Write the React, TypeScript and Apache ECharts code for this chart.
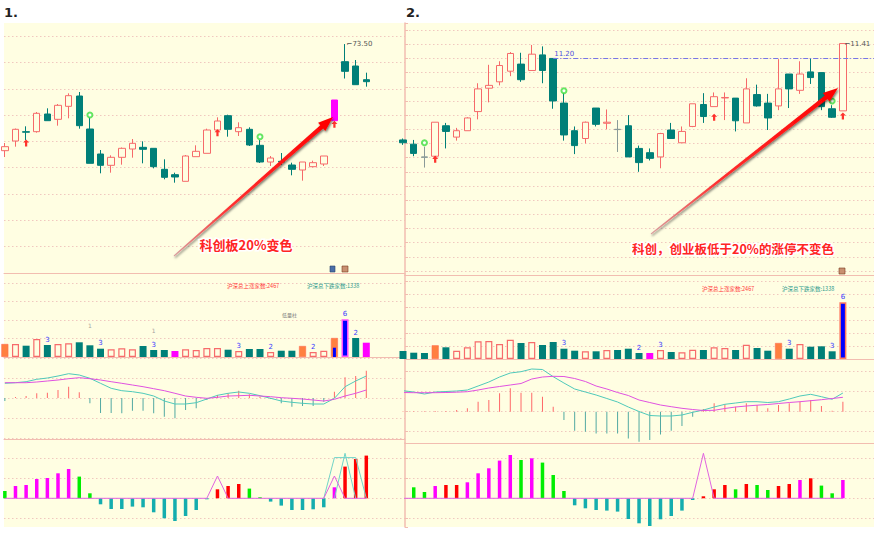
import React, { useEffect, useRef } from 'react';
import * as echarts from 'echarts';

// ================= Panel 1 (left) =================
// [open, close, low, high]
const leftCandles = [
  [53.24, 54.0, 52.04, 54.7], [55.08, 57.3, 54.0, 57.45], [56.85, 56.75, 55.27, 57.87], [56.85, 60.34, 56.66, 60.59],
  [60.21, 58.94, 58.94, 61.29], [59.2, 61.86, 57.99, 62.11], [61.67, 63.69, 59.39, 64.14], [63.63, 57.99, 57.42, 64.39],
  [57.36, 50.84, 50.84, 59.58], [52.61, 50.46, 48.94, 53.37], [50.46, 51.98, 49.06, 52.36], [51.98, 53.69, 50.58, 53.85],
  [53.56, 54.64, 51.91, 55.46], [53.88, 53.5, 50.84, 55.02], [53.69, 50.2, 49.89, 53.69], [49.7, 48.18, 47.8, 51.6],
  [48.68, 48.24, 47.16, 49.06], [47.42, 52.23, 47.42, 52.42], [52.1, 53.12, 52.1, 54.26], [52.74, 57.17, 52.74, 57.42],
  [57.17, 58.88, 57.17, 59.58], [59.89, 57.3, 55.9, 60.08], [56.85, 57.61, 56.03, 58.63], [57.3, 54.32, 54.13, 57.68],
  [54.26, 51.09, 50.9, 55.27], [51.09, 51.85, 50.33, 52.23], [51.22, 51.09, 50.52, 52.8], [50.52, 49.7, 48.56, 50.96],
  [49.57, 51.09, 47.54, 51.09], [50.2, 50.96, 50.08, 51.34], [50.71, 52.23, 50.33, 52.23], [58.94, 62.87, 58.94, 62.87],
  [70.15, 68.32, 66.95, 73.5], [69.33, 65.78, 65.78, 70.47], [66.73, 66.35, 65.4, 68.06],
];
const leftLimitUp = [31];
const leftArrowX = [2, 20, 31];
const leftArrowY = [54.7, 56.66, 58.25];
const leftClubX = [8, 24];
const leftClubY = [60.02, 55.9];

const leftVol = [13, 13, 11.3, 18, 12, 13, 13.7, 14.7, 11.7, 8.3, 7.7, 8.7, 7.7, 11, 7, 7, 6, 7.7, 7, 9, 9, 7.3, 6, 8, 8, 5, 6.3, 6.3, 11, 5, 6.3, 19, 37.7, 19, 14.3];
const leftVolType = ['o', 'u', 'd', 'u', 'd', 'u', 'u', 'd', 'd', 'd', 'u', 'u', 'u', 'd', 'd', 'd', 'm', 'u', 'u', 'u', 'u', 'd', 'u', 'd', 'd', 'u', 'd', 'd', 'o', 'u', 'u', 'o', 'b', 'd', 'm'];
const leftVolMark = ['', '', '', '', '3', '', '', '', '', '3', '', '', '', '', '3', '', '', '', '', '', '', '', '3', '', '', '2', '', '', '', '2', '', '', '6', '2', ''];
const leftVolInnerX = [31];
const leftVolInner = [9.3];
const leftGrayMarkX = [8, 14];
const leftGrayMarkY = [31.3, 27];

const leftDif = [1.47, 1.53, 1.63, 1.87, 2.0, 2.2, 2.43, 2.3, 1.97, 1.47, 0.97, 0.73, 0.63, 0.47, 0.2, -0.3, -0.6, -0.6, -0.47, -0.1, 0.27, 0.47, 0.6, 0.47, 0.23, -0.03, -0.3, -0.43, -0.53, -0.6, -0.6, -0.03, 1.13, 1.7, 2.2];
const leftDea = [1.53, 1.53, 1.53, 1.6, 1.7, 1.8, 1.93, 2.03, 1.93, 1.8, 1.63, 1.47, 1.3, 1.13, 0.93, 0.73, 0.47, 0.2, 0.07, -0.03, 0.07, 0.2, 0.23, 0.27, 0.2, 0.13, 0.03, -0.03, -0.1, -0.2, -0.3, -0.13, 0.2, 0.47, 0.8];
const leftStick = [-0.3, 0.1, 0.2, 0.47, 0.53, 0.8, 1.13, 0.57, -0.53, -1.5, -1.5, -1.53, -1.27, -1.27, -1.53, -1.87, -2.03, -1.2, -1.03, -0.2, 0.3, 0.47, 0.73, 0.37, 0.13, -0.1, -0.53, -0.87, -0.8, -0.8, -0.37, 0.63, 2.07, 2.2, 2.73];

const leftHist = [0.73, 1.23, 1.33, 1.93, 2.03, 2.5, 2.93, 2.17, 0.5, -0.6, -1.07, -1.07, -0.83, -0.9, -1.4, -2.0, -2.27, -1.77, -1.17, -0.1, 0.9, 1.23, 1.43, 0.97, 0.1, -0.33, -0.73, -1.17, -1.17, -1.1, -0.9, 1.1, 3.17, 3.93, 4.27];
const leftHistType = ['g', 'm', 'm', 'm', 'm', 'm', 'm', 'g', 'g', 't', 't', 't', 't', 't', 't', 't', 't', 't', 't', 't', 'r', 'r', 'r', 'g', 'g', 't', 't', 't', 't', 't', 't', 'm', 'r', 'r', 'r'];
const leftSigM = [0, 0, 0, 0, 0, 0, 0, 0, 0, 0, 0, 0, 0, 0, 0, 0, 0, 0, 0, 0, 2.23, 0, 0, 0, 0, 0, 0, 0, 0, 0, 0, 2.23, 0, 0, 0];
const leftSigT1X = [30, 31, 32, 33, 34];
const leftSigT1 = [0, 4.07, 4.07, 4.07, 0];
const leftSigT2X = [31, 32, 33];
const leftSigT2 = [0, 4.5, 0];

// ================= Panel 2 (right) =================
const rightCandles = [
  [10.05, 10.01, 9.98, 10.07], [9.99, 9.86, 9.82, 10.05], [9.81, 9.806, 9.66, 9.955], [9.82, 10.3, 9.81, 10.3],
  [10.25, 10.17, 9.93, 10.29], [10.09, 10.18, 10.04, 10.22], [10.18, 10.36, 10.18, 10.37], [10.45, 10.77, 10.34, 10.85],
  [10.78, 10.82, 10.58, 11.11], [10.87, 11.1, 10.82, 11.16], [11.02, 11.27, 10.95, 11.29], [11.12, 10.9, 10.87, 11.28],
  [11.03, 11.26, 11.03, 11.39], [11.25, 11.03, 10.85, 11.37], [11.2, 10.6, 10.49, 11.2], [10.57, 10.12, 10.04, 10.71],
  [10.18, 9.97, 9.85, 10.24], [10.07, 10.3, 10.0, 10.31], [10.5, 10.27, 10.24, 10.5], [10.285, 10.3, 10.2, 10.48],
  [10.2, 10.196, 9.88, 10.33], [10.25, 9.81, 9.81, 10.4], [9.93, 9.73, 9.6, 9.97], [9.87, 9.79, 9.76, 9.93],
  [9.81, 10.14, 9.65, 10.15], [10.19, 10.07, 10.07, 10.29], [10.01, 10.17, 10.01, 10.24], [10.24, 10.56, 10.23, 10.56],
  [10.55, 10.38, 10.29, 10.71], [10.52, 10.66, 10.52, 10.72], [10.642, 10.649, 10.33, 10.72], [10.64, 10.32, 10.17, 10.64],
  [10.29, 10.77, 10.29, 10.92], [10.69, 10.53, 10.52, 10.83], [10.57, 10.36, 10.19, 10.7], [10.53, 10.77, 10.47, 11.19],
  [10.98, 10.77, 10.5, 10.98], [10.75, 10.98, 10.7, 11.16], [11.01, 10.93, 10.84, 11.2], [11.0, 10.52, 10.47, 11.0],
  [10.49, 10.37, 10.36, 10.54], [10.46, 11.41, 10.46, 11.41],
];
const rightGrayDoji = [2, 20];
const rightArrowX = [3, 29, 41];
const rightArrowY = [9.777, 10.37, 10.388];
const rightClubX = [2, 15, 40];
const rightClubY = [10.011, 10.745, 10.6];
const rightRefLine = 11.2;
const rightRefFrom = 14;

const rightVol = [8, 6.3, 6, 13.7, 11.7, 8.3, 11.7, 17.7, 18, 15, 19.3, 16, 17, 14, 17, 10.3, 8.3, 7.7, 7.7, 9, 9, 10.3, 6, 6, 9, 7, 6.7, 9.3, 9, 11.7, 11, 9, 14.3, 11, 8.3, 16, 10.3, 15, 12.3, 12.7, 7.7, 56.7];
const rightVolType = ['d', 'd', 'd', 'o', 'd', 'u', 'u', 'u', 'u', 'u', 'u', 'd', 'u', 'd', 'd', 'd', 'd', 'u', 'd', 'u', 'd', 'd', 'd', 'm', 'u', 'd', 'u', 'u', 'd', 'u', 'u', 'd', 'u', 'd', 'd', 'o', 'd', 'u', 'd', 'd', 'd', 'b'];
const rightVolMark = ['', '', '', '', '', '', '', '', '', '', '', '', '', '', '', '3', '', '', '', '', '', '', '2', '', '3', '', '', '', '', '', '', '', '', '', '', '', '3', '', '', '', '3', '6'];

const rightDif = [2.1, 1.97, 1.77, 1.97, 2.02, 2.07, 2.17, 2.57, 2.97, 3.47, 3.87, 4.0, 4.27, 4.22, 3.5, 2.87, 2.27, 1.97, 1.67, 1.32, 0.97, 0.47, 0.02, -0.38, -0.43, -0.43, -0.33, -0.06, 0.17, 0.47, 0.74, 0.87, 1.0, 1.0, 0.92, 1.0, 1.27, 1.57, 1.74, 1.5, 1.24, 1.87];
const rightDea = [1.92, 1.9, 1.9, 1.9, 1.92, 1.95, 2.0, 2.17, 2.37, 2.52, 2.67, 2.82, 3.27, 3.47, 3.54, 3.52, 3.32, 3.02, 2.57, 2.27, 1.92, 1.62, 1.17, 0.92, 0.67, 0.5, 0.34, 0.22, 0.12, 0.14, 0.32, 0.47, 0.57, 0.65, 0.72, 0.82, 0.92, 1.0, 1.1, 1.2, 1.32, 1.44];
const rightStick = [0.05, 0.05, 0.05, 0.07, 0.07, 0.17, 0.34, 1.0, 1.17, 1.84, 2.34, 1.9, 1.9, 1.5, 0.5, -0.83, -1.9, -2.0, -2.17, -2.17, -2.17, -2.67, -3.0, -2.84, -2.27, -1.9, -1.44, -0.5, 0.27, 0.84, 0.74, 0.5, 0.84, 0.67, 0.34, 0.67, 0.84, 1.0, 1.17, 0.57, 0.1, 1.0];

const rightHist = [0, 1.1, 0.63, 1.23, 1.33, 1.33, 1.6, 2.5, 3.0, 3.77, 4.33, 3.83, 4.0, 3.57, 2.33, 0.73, -0.7, -1.0, -1.17, -1.23, -1.33, -2.07, -2.5, -2.77, -2.1, -1.77, -1.23, -0.17, 0.2, 0.9, 1.33, 0.9, 1.43, 1.33, 0.83, 1.23, 1.43, 1.83, 2.0, 1.27, 0.5, 1.83];
const rightHistType = ['g', 'g', 'g', 'm', 'r', 'r', 'm', 'm', 'm', 'm', 'm', 'g', 'm', 'g', 'g', 'g', 't', 't', 't', 't', 't', 't', 't', 't', 't', 't', 't', 't', 'r', 'r', 'r', 'g', 'r', 'g', 'g', 'r', 'r', 'm', 'r', 'g', 'g', 'm'];
const rightSigM = [0, 0, 0, 0, 0, 0, 0, 0, 0, 0, 0, 0, 0, 0, 0, 0, 0, 0, 0, 0, 0, 0, 0, 0, 0, 0, 0, 0, 4.5, 0, 0, 0, 0, 0, 0, 0, 0, 0, 0, 0, 0, 0];

// ================= styles =================
const BG = '#fffee2';
const TEAL = '#007f78';
const RED = '#f66a6a';
const SEP = '#f2bdb0';
const CJK = '"Noto Sans CJK SC", sans-serif';
const LAT = '"DejaVu Sans", sans-serif';

const dotted = {
  show: true,
  showMinLine: false,
  showMaxLine: false,
  lineStyle: { color: '#f0c8bf', type: [1.5, 2.5], width: 1 },
};

function volStyle(t: string, blueBorder: string) {
  if (t === 'u') return { color: BG, borderColor: '#f76b6b', borderWidth: 1.2 };
  if (t === 'd') return { color: TEAL };
  if (t === 'o') return { color: '#ff8040', borderColor: '#ff6a50', borderWidth: 0.6 };
  if (t === 'm') return { color: '#ff00ff' };
  return { color: '#0000ff', borderColor: blueBorder, borderWidth: 1.5 };
}
const histColors: Record<string, string> = { m: '#ff00ff', g: '#00ee00', r: '#ff0000', t: '#14adae' };

function arrowPoints(x1: number, y1: number, x2: number, y2: number) {
  const dx = x2 - x1, dy = y2 - y1;
  const len = Math.hypot(dx, dy);
  const ux = dx / len, uy = dy / len;
  const nx = -uy, ny = ux;
  const hl = 15, hw = 5.5, sw0 = 0.6, sw1 = 2.2;
  const bx = x2 - ux * hl, by = y2 - uy * hl;
  return [
    [x1 + nx * sw0, y1 + ny * sw0], [bx + nx * sw1, by + ny * sw1], [bx + nx * hw, by + ny * hw], [x2, y2],
    [bx - nx * hw, by - ny * hw], [bx - nx * sw1, by - ny * sw1], [x1 - nx * sw0, y1 - ny * sw0],
  ];
}

function annotArrow(x1: number, y1: number, x2: number, y2: number) {
  return {
    type: 'polygon',
    z: 99,
    shape: { points: arrowPoints(x1, y1, x2, y2) },
    style: {
      fill: {
        type: 'linear', x: x1, y: y1, x2: x2, y2: y2, global: true,
        colorStops: [{ offset: 0, color: '#d9a0a0' }, { offset: 0.35, color: '#ff3030' }, { offset: 1, color: '#ff0000' }],
      },
      shadowBlur: 2, shadowColor: 'rgba(0,0,0,0.55)', shadowOffsetX: 1, shadowOffsetY: 1.5,
    },
  };
}

function annotText(text: string, x: number, y: number, size: number) {
  return {
    type: 'text', z: 100, x, y,
    style: {
      text, fill: '#ff2424', font: `bold ${size}px ${CJK}`, textAlign: 'center', textVerticalAlign: 'middle',
      stroke: '#ffffff', lineWidth: 3, shadowBlur: 3, shadowColor: 'rgba(0,0,0,0.35)',
    },
  };
}

function smallText(text: string, x: number, y: number, color: string, size: number) {
  return { type: 'text', z: 50, x, y, style: { text, fill: color, font: `${size}px ${CJK}`, textVerticalAlign: 'middle' } };
}

function buildPanelSeries(p: any) {
  const s: any[] = [];
  // candles
  s.push({
    type: 'candlestick', xAxisIndex: p.ax[0], yAxisIndex: p.ax[0], barWidth: 7, clip: true,
    itemStyle: { color: BG, color0: TEAL, borderColor: RED, borderColor0: TEAL, borderWidth: 1 },
    data: p.candles.map((c: number[], i: number) => {
      const item: any = { value: [i, c[0], c[1], c[2], c[3]] };
      if (p.limitUp && p.limitUp.includes(i)) item.itemStyle = { color: '#ff00ff', borderColor: '#ff00ff' };
      if (p.grayDoji && p.grayDoji.includes(i)) item.itemStyle = { borderColor0: '#8a9a98', borderColor: '#8a9a98' };
      return item;
    }),
    markPoint: p.markPoint,
    markLine: p.markLine,
  });
  s.push({
    type: 'scatter', xAxisIndex: p.ax[0], yAxisIndex: p.ax[0], z: 5,
    symbol: 'path://M4,0 L8,4 L5.5,4 L5.5,9 L2.5,9 L2.5,4 L0,4 Z', symbolSize: [6, 7],
    itemStyle: { color: '#ff0000' },
    data: p.arrowX.map((x: number, k: number) => [x, p.arrowY[k]]),
  });
  s.push({
    type: 'scatter', xAxisIndex: p.ax[0], yAxisIndex: p.ax[0], z: 5,
    symbol: 'emptyCircle', symbolSize: 5,
    itemStyle: { color: '#3fe03f', borderWidth: 1.3 },
    data: p.clubX.map((x: number, k: number) => [x, p.clubY[k]]),
  });
  // volume
  s.push({
    type: 'bar', xAxisIndex: p.ax[1], yAxisIndex: p.ax[1], barWidth: 7, clip: true,
    data: p.vol.map((v: number, i: number) => {
      const item: any = { value: [i, v], itemStyle: volStyle(p.volType[i], p.blueBorder) };
      if (p.volMark[i]) {
        item.label = { show: true, position: 'top', distance: 2, formatter: p.volMark[i], color: '#3b3bff', fontSize: 7, fontFamily: LAT };
      }
      return item;
    }),
  });
  // macd sticks & lines
  s.push({
    type: 'bar', xAxisIndex: p.ax[2], yAxisIndex: p.ax[2], barWidth: 1, clip: true,
    data: p.stick.map((v: number, i: number) => ({ value: [i, v], itemStyle: { color: v >= 0 ? '#ff6868' : '#52a9a2' } })),
  });
  s.push({
    type: 'line', xAxisIndex: p.ax[2], yAxisIndex: p.ax[2], symbol: 'none',
    lineStyle: { color: '#4fc9ba', width: 1 }, data: p.dif.map((v: number, i: number) => [i, v]),
  });
  s.push({
    type: 'line', xAxisIndex: p.ax[2], yAxisIndex: p.ax[2], symbol: 'none',
    lineStyle: { color: '#e052e0', width: 1 }, data: p.dea.map((v: number, i: number) => [i, v]),
  });
  // histogram
  s.push({
    type: 'bar', xAxisIndex: p.ax[3], yAxisIndex: p.ax[3], barWidth: 3.5, clip: true,
    data: p.hist.map((v: number, i: number) => ({ value: [i, v], itemStyle: { color: histColors[p.histType[i]] } })),
  });
  return s;
}

export default function App() {
  const ref = useRef<HTMLDivElement>(null);
  useEffect(() => {
    if (!ref.current) return;
    const chart = echarts.init(ref.current, undefined, { renderer: 'svg' });

    const xl = { type: 'value', min: -0.08, max: 37.64, axisTick: { show: false }, axisLabel: { show: false }, splitLine: { show: false } };
    const xr = { type: 'value', min: 0.186, max: 43.9, axisTick: { show: false }, axisLabel: { show: false }, splitLine: { show: false } };
    const sepLine = { show: true, onZero: false, lineStyle: { color: SEP, width: 1 } };
    const noLine = { show: false, onZero: false };

    const yHidden = { type: 'value', axisLine: { show: false, onZero: false }, axisTick: { show: false }, axisLabel: { show: false } };
    const yRight = {
      type: 'value', position: 'left',
      axisLine: { show: true, onZero: false, lineStyle: { color: SEP, width: 1.5 } },
      axisTick: { show: true, inside: true, length: 3, lineStyle: { color: SEP } },
      axisLabel: { show: false },
    };

    const leftSeries = buildPanelSeries({
      ax: [0, 1, 2, 3], candles: leftCandles, limitUp: leftLimitUp,
      arrowX: leftArrowX, arrowY: leftArrowY, clubX: leftClubX, clubY: leftClubY,
      vol: leftVol, volType: leftVolType, volMark: leftVolMark, blueBorder: '#ff50ff',
      stick: leftStick, dif: leftDif, dea: leftDea, hist: leftHist, histType: leftHistType,
      markPoint: {
        symbol: 'rect', symbolSize: 1, itemStyle: { color: 'rgba(0,0,0,0)' },
        label: { show: true, position: 'right', distance: 1, formatter: '⌐73.50', color: '#555', fontSize: 7, fontFamily: LAT },
        data: [{ coord: [32, 73.5] }],
      },
    });
    const rightSeries = buildPanelSeries({
      ax: [4, 5, 6, 7], candles: rightCandles, grayDoji: rightGrayDoji,
      arrowX: rightArrowX, arrowY: rightArrowY, clubX: rightClubX, clubY: rightClubY,
      vol: rightVol, volType: rightVolType, volMark: rightVolMark, blueBorder: '#ff7a60',
      stick: rightStick, dif: rightDif, dea: rightDea, hist: rightHist, histType: rightHistType,
      markPoint: {
        symbol: 'rect', symbolSize: 1, itemStyle: { color: 'rgba(0,0,0,0)' },
        label: { show: true, position: 'right', distance: 1, formatter: '⌐11.41', color: '#555', fontSize: 7, fontFamily: LAT },
        data: [{ coord: [41, 11.41] }],
      },
      markLine: {
        silent: true, symbol: 'none',
        lineStyle: { color: '#7676e6', type: [5, 2, 1, 2], width: 1 },
        label: { show: true, position: 'insideStartTop', distance: 1, formatter: '11.20', color: '#5050dd', fontSize: 7, fontFamily: LAT },
        data: [[{ coord: [rightRefFrom, rightRefLine] }, { coord: [43.9, rightRefLine] }]],
      },
    });

    const extraSeries: any[] = [
      {
        type: 'bar', xAxisIndex: 8, yAxisIndex: 1, barWidth: 3, z: 3,
        itemStyle: { color: '#0000ff' },
        data: leftVolInnerX.map((x, k) => [x, leftVolInner[k]]),
      },
      {
        type: 'scatter', xAxisIndex: 1, yAxisIndex: 1, symbolSize: 0,
        label: { show: true, position: 'inside', formatter: '1', color: '#8a8a8a', fontSize: 6, fontFamily: LAT },
        data: leftGrayMarkX.map((x, k) => [x, leftGrayMarkY[k]]),
      },
      {
        type: 'line', xAxisIndex: 3, yAxisIndex: 3, symbol: 'none', z: 3,
        lineStyle: { color: '#72d4c8', width: 1 }, data: leftSigT1X.map((x, k) => [x, leftSigT1[k]]),
      },
      {
        type: 'line', xAxisIndex: 3, yAxisIndex: 3, symbol: 'none', z: 3,
        lineStyle: { color: '#72d4c8', width: 1 }, data: leftSigT2X.map((x, k) => [x, leftSigT2[k]]),
      },
      {
        type: 'line', xAxisIndex: 3, yAxisIndex: 3, symbol: 'none', z: 4,
        lineStyle: { color: '#e064e0', width: 1 }, data: leftSigM.map((v, i) => [i, v]),
      },
      {
        type: 'line', xAxisIndex: 7, yAxisIndex: 7, symbol: 'none', z: 4,
        lineStyle: { color: '#e064e0', width: 1 }, data: rightSigM.map((v, i) => [i, v]),
      },
    ];

    const grids = [
      { left: 4, top: 23, width: 401, height: 250 },
      { left: 4, top: 273, width: 401, height: 84 },
      { left: 4, top: 357, width: 401, height: 82 },
      { left: 4, top: 439, width: 401, height: 88 },
      { left: 405, top: 23, width: 469, height: 252 },
      { left: 405, top: 275, width: 469, height: 84 },
      { left: 405, top: 359, width: 469, height: 84 },
      { left: 405, top: 443, width: 469, height: 84 },
    ].map((g) => ({ ...g, show: true, backgroundColor: BG, borderWidth: 0 }));

    const option: any = {
      animation: false,
      backgroundColor: '#ffffff',
      grid: grids,
      xAxis: [
        { ...xl, gridIndex: 0, axisLine: sepLine },
        { ...xl, gridIndex: 1, axisLine: sepLine },
        { ...xl, gridIndex: 2, axisLine: sepLine },
        { ...xl, gridIndex: 3, axisLine: noLine },
        { ...xr, gridIndex: 4, axisLine: sepLine },
        { ...xr, gridIndex: 5, axisLine: sepLine },
        { ...xr, gridIndex: 6, axisLine: sepLine },
        { ...xr, gridIndex: 7, axisLine: noLine },
        { ...xl, gridIndex: 1, axisLine: noLine },
      ],
      yAxis: [
        { ...yHidden, gridIndex: 0, min: 30, max: 77.5, interval: 5, splitLine: dotted },
        { ...yHidden, gridIndex: 1, min: 0, max: 84, interval: 18.5, splitLine: dotted },
        { ...yHidden, gridIndex: 2, min: -4.1, max: 4.1, splitNumber: 4, splitLine: dotted },
        { ...yHidden, gridIndex: 3, min: -2.87, max: 5.93, splitNumber: 4, splitLine: dotted },
        { ...yRight, gridIndex: 4, min: 8.144, max: 11.7, splitNumber: 18, splitLine: dotted },
        { ...yRight, gridIndex: 5, min: 0, max: 84, interval: 13, splitLine: dotted },
        { ...yRight, gridIndex: 6, min: -3.13, max: 5.27, splitNumber: 4, splitLine: dotted },
        { ...yRight, gridIndex: 7, min: -2.87, max: 5.53, splitNumber: 4, splitLine: dotted },
      ],
      series: [...leftSeries, ...rightSeries, ...extraSeries],
      graphic: [
        { type: 'text', x: 4, y: 6, z: 100, style: { text: '1.', fill: '#222', font: `bold 13px ${LAT}` } },
        { type: 'text', x: 406, y: 6, z: 100, style: { text: '2.', fill: '#222', font: `bold 13px ${LAT}` } },
        annotArrow(174, 256, 333, 117),
        annotArrow(651, 234, 838, 88),
        annotText('科创板20%变色', 246, 244, 13),
        annotText('科创，创业板低于20%的涨停不变色', 733, 248, 12.5),
        smallText('沪深总上涨家数:2467', 227, 286, '#ff3a3a', 5.5),
        smallText('沪深总下跌家数:1338', 307, 286, '#2a9a8c', 5.5),
        smallText('沪深总上涨家数:2467', 702, 288.5, '#ff3a3a', 5.5),
        smallText('沪深总下跌家数:1338', 782, 288.5, '#2a9a8c', 5.5),
        smallText('低量柱', 282, 314, '#7a7a7a', 5),
        { type: 'rect', z: 60, shape: { x: 330, y: 266, width: 5, height: 6 }, style: { fill: '#4a6fa8', stroke: '#28406a', lineWidth: 0.6 } },
        { type: 'rect', z: 60, shape: { x: 342, y: 266, width: 6, height: 6 }, style: { fill: '#c89070', stroke: '#7a3a20', lineWidth: 0.6 } },
        { type: 'rect', z: 60, shape: { x: 839, y: 268, width: 6, height: 6 }, style: { fill: '#c89070', stroke: '#7a3a20', lineWidth: 0.6 } },
      ],
    };

    chart.setOption(option);
    return () => chart.dispose();
  }, []);

  return <div ref={ref} style={{ position: 'absolute', left: 0, top: 0, width: 874, height: 548 }} />;
}
